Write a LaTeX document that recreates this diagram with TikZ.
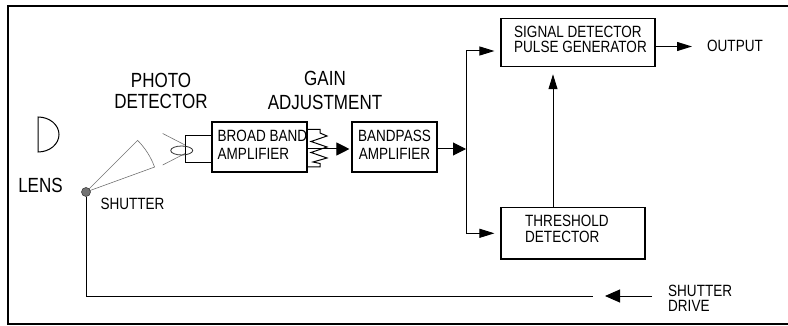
\documentclass[tikz,border=0pt]{standalone}
\usepackage{fontspec}
\setmainfont{Liberation Sans}[FakeStretch=0.83]
\usetikzlibrary{arrows.meta}
\begin{document}
\begin{tikzpicture}[x=1pt,y=-1pt,
  box/.style={draw, line width=1.1pt, inner sep=0pt},
  conn/.style={line width=1pt},
  ray/.style={line width=0.6pt, draw=black!55},
  arrbig/.style={-{Triangle[length=13pt,width=13pt]}},
  arrlong/.style={-{Triangle[length=15pt,width=13pt]}},
  arrslim/.style={-{Triangle[length=15pt,width=9pt]}},
  bigtxt/.style={inner sep=0pt, align=center, font=\fontsize{20.5}{21}\selectfont},
  smalltxt/.style={inner sep=0pt, font=\fontsize{16.3}{18}\selectfont},
]
\useasboundingbox (0,0) rectangle (788,326);
% frame
\draw[line width=2pt] (788,6.2) -- (8.2,6.2) -- (8.2,323.8) -- (788,323.8);

% boxes
\node[box, minimum width=95pt, minimum height=50pt] (bb) at (259.5,147) {};
\node[box, minimum width=85pt, minimum height=50pt] (bp) at (394.5,147) {};
\node[box, minimum width=154pt, minimum height=48.4pt] (sd) at (578,42.5) {};
\node[box, minimum width=144pt, minimum height=51.3pt] (th) at (573,233.3) {};

% box texts
\node[smalltxt, align=left, anchor=west] (bbt) at (217.5,145) {BROAD BAND\\AMPLIFIER};
\node[smalltxt, align=center] (bpt) at (394.5,145) {BANDPASS\\AMPLIFIER};
\node[smalltxt, align=left, anchor=west, font=\fontsize{16.3}{15}\selectfont] (sdt) at (514,39) {SIGNAL DETECTOR\\PULSE GENERATOR};
\node[smalltxt, align=left, anchor=west, font=\fontsize{16.3}{16.5}\selectfont] (tht) at (525,229) {THRESHOLD\\DETECTOR};

% labels
\node[bigtxt] (pdl) at (161,91) {PHOTO\\DETECTOR};
\node[bigtxt, font=\fontsize{20.5}{24}\selectfont] (gal) at (325,90.5) {GAIN\\ADJUSTMENT};
\node[bigtxt] (lensl) at (40.5,185.5) {LENS};
\node[smalltxt] (shl) at (132.5,204) {SHUTTER};
\node[smalltxt] (outl) at (735,45.5) {OUTPUT};
\node[smalltxt, align=left, anchor=west, font=\fontsize{16.3}{15}\selectfont] (sdrl) at (668,298.5) {SHUTTER\\DRIVE};

% lens
\draw[line width=1pt] (38,117) arc[start angle=90, end angle=-90, x radius=21pt, y radius=17.5pt] -- cycle;

% shutter
\coordinate (dotc) at (86,192);
\draw[ray] (dotc) -- (137.6,140.4) arc[start angle=45, end angle=20, radius=73pt] -- (dotc);
\node[circle, fill=black!55, draw=black!75, line width=0.6pt, minimum size=9pt, inner sep=0pt] (dot) at (dotc) {};

% photo detector
\draw[ray] (162.7,133.5) -- (185,145);
\draw[ray] (162.7,165) -- (185,153.5);
\draw[conn] (bb.west |- 0,136) -- (185,136) -- (185,163) -- (bb.west |- 0,163);
\draw[line width=0.8pt, draw=black!80] (181.7,150.5) ellipse [x radius=11pt, y radius=4.5pt];

% gain adjustment
\draw[conn] (bb.east |- 0,129.3) -- (320,129.3) -- (320,133) -- (327,136) -- (311,141.5) -- (327,147) -- (311,152.5) -- (327,158) -- (313,162) -- (320,163.5) -- (320,167) -- (bb.east |- 0,167);

% connectors
\coordinate (jm) at (466,149);
\coordinate (jt) at (466,51);
\coordinate (jb) at (466,233.3);
\draw[conn, arrbig, shorten >=2pt] ([yshift=-2pt]bb.east) -- ([yshift=-2pt]bb.east -| bp.west);
\draw[conn, arrbig] ([yshift=-2pt]bp.east) -- (jm);
\draw[conn] (jt) -- (jb);
\draw[conn, arrslim, shorten >=6pt] (jt) -- (jt -| sd.west);
\draw[conn, arrslim, shorten >=6pt] (jb) -- (jb -| th.west);
\draw[conn, arrslim, shorten >=7pt] ([xshift=-20pt]th.north) -- ([xshift=-20pt]th.north |- sd.south);
\coordinate (outtip) at (692,46.5);
\draw[conn, arrslim] ([yshift=-4pt]sd.east) -- (outtip);

% shutter drive
\coordinate (lineend) at (593,296);
\coordinate (sdA) at (652,296);
\coordinate (sdB) at (605,296);
\draw[conn] (dot.south) -- (dot.south |- lineend) -- (lineend);
\draw[conn, arrlong] (sdA) -- (sdB);
\end{tikzpicture}
\end{document}
